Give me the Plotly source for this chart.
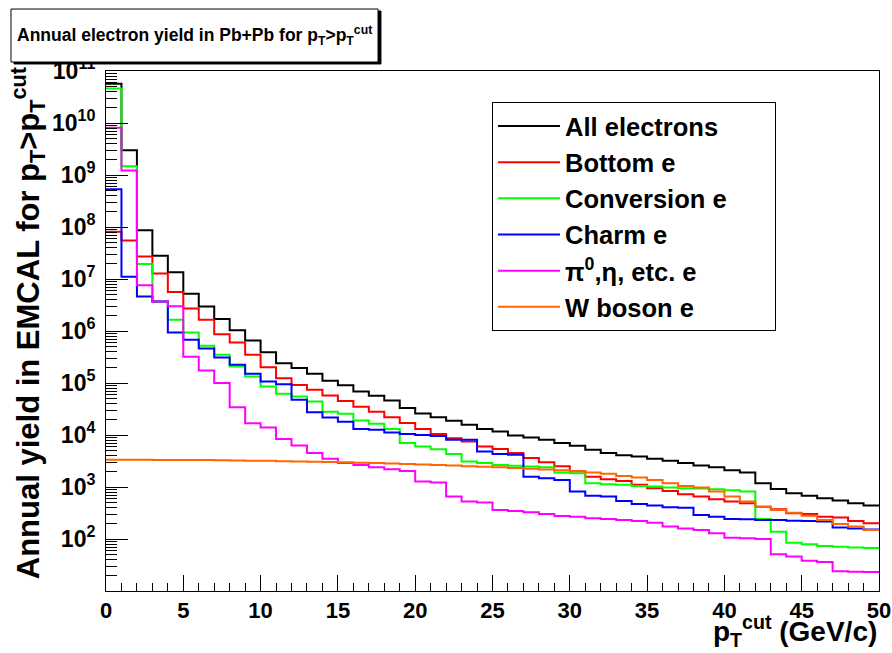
import plotly.graph_objects as go

# pT cut bin edges (GeV/c), 1 GeV bins from 0 to 50
pt_edges = list(range(0, 51))

all_e = [5.7e10, 3.0e9, 8.7e7, 2.8e7, 1.35e7, 5.2e6, 2.95e6, 1.70e6, 1.03e6, 6.6e5,
         3.9e5, 2.4e5, 1.94e5, 1.5e5, 1.1e5, 9.1e4, 6.9e4, 5.7e4, 4.6e4, 3.3e4,
         2.6e4, 2.2e4, 1.87e4, 1.57e4, 1.31e4, 1.17e4, 9.8e3, 9.0e3, 8.1e3, 7.0e3,
         6.2e3, 5.2e3, 4.5e3, 4.1e3, 3.85e3, 3.5e3, 3.2e3, 2.9e3, 2.6e3, 2.4e3,
         2.1e3, 1.9e3, 1.18e3, 920, 757, 682, 607, 547, 486, 439]

bottom_e = [8.1e7, 5.5e7, 2.7e7, 1.27e7, 5.6e6, 2.7e6, 1.65e6, 8.7e5, 6.0e5, 3.5e5,
            2.0e5, 1.24e5, 9.2e4, 7.4e4, 5.75e4, 4.5e4, 3.5e4, 2.8e4, 2.2e4, 1.7e4,
            1.3e4, 1.05e4, 8.7e3, 7.5e3, 6.0e3, 5.4e3, 4.5e3, 3.6e3, 3.0e3, 2.5e3,
            2.0e3, 1.58e3, 1.41e3, 1.31e3, 1.1e3, 946, 840, 724, 653, 581,
            524, 486, 419, 372, 312, 303, 269, 258, 222, 200]

conv_e = [4.6e10, 1.48e9, 1.95e7, 3.7e6, 1.65e6, 9.4e5, 5.2e5, 3.5e5, 2.08e5, 1.34e5,
          8.6e4, 6.2e4, 5.5e4, 4.4e4, 2.8e4, 2.55e4, 1.9e4, 1.64e4, 1.31e4, 7.0e3,
          6.0e3, 5.3e3, 4.3e3, 3.1e3, 2.9e3, 2.66e3, 2.55e3, 2.47e3, 2.4e3, 1.9e3,
          1.84e3, 1.18e3, 1.13e3, 1.1e3, 1.05e3, 1.02e3, 975, 946, 931, 904,
          865, 815, 243, 138, 85, 79, 73, 71, 69, 67]

charm_e = [5.3e8, 1.1e7, 4.6e6, 3.7e6, 9.4e5, 6.8e5, 4.6e5, 3.1e5, 2.24e5, 1.5e5,
           1.07e5, 9.5e4, 4.75e4, 2.75e4, 2.17e4, 1.8e4, 1.31e4, 1.26e4, 1.12e4, 1.05e4,
           1.0e4, 9.6e3, 8.1e3, 8.1e3, 4.8e3, 4.3e3, 4.15e3, 1.58e3, 1.47e3, 1.37e3,
           815, 682, 660, 540, 472, 439, 407, 401, 290, 269,
           243, 239, 232, 232, 225, 222, 216, 167, 160, 153]

pi0_e = [8.1e9, 1.22e9, 7.6e6, 3.7e6, 3.0e6, 3.2e5, 1.74e5, 1.0e5, 3.4e4, 1.69e4,
         1.39e4, 8.4e3, 6.3e3, 4.5e3, 3.5e3, 2.9e3, 2.66e3, 2.4e3, 2.2e3, 2.04e3,
         1.27e3, 1.22e3, 653, 524, 501, 361, 346, 326, 303, 277,
         269, 250, 243, 232, 222, 206, 173, 160, 149, 129,
         106, 103, 100, 51, 46, 38, 36, 24, 23.4, 23.1]

w_e = [3350, 3340, 3330, 3320, 3310, 3300, 3290, 3260, 3240, 3210,
       3180, 3140, 3100, 3070, 3030, 2980, 2930, 2880, 2830, 2770,
       2710, 2640, 2580, 2520, 2450, 2390, 2320, 2250, 2180, 2090,
       2000, 1890, 1790, 1630, 1520, 1370, 1180, 1050, 975, 815,
       653, 524, 419, 361, 321, 281, 232, 195, 173, 149]

series_names = ["All electrons", "Bottom e",
                "Conversion e" + "\u00a0" * 6, "Charm e",
                "\u03c0<sup>0</sup>,\u03b7, etc. e", "W boson e"]
series_vals = [all_e, bottom_e, conv_e, charm_e, pi0_e, w_e]
series_colors = ["#000000", "#ff0000", "#00ff00", "#0000ff", "#ff00ff", "#ff6600"]

FONT = "Liberation Sans, Arial, Helvetica, sans-serif"

fig = go.Figure()
for name, vals, col in zip(series_names, series_vals, series_colors):
    fig.add_trace(go.Scatter(
        x=pt_edges, y=vals + [vals[-1]], mode="lines", name=name,
        line=dict(color=col, width=2, shape="hv"),
        legendgroup=name,
    ))

dec = list(range(2, 12))
minor_y = [m * 10 ** e for e in range(1, 11) for m in range(2, 10)]

fig.update_layout(
    width=892, height=653,
    margin=dict(l=106, r=13, t=71, b=62, autoexpand=False),
    paper_bgcolor="white", plot_bgcolor="white",
    font=dict(family=FONT, color="black"),
    showlegend=True,
    legend=dict(x=0.4994, y=0.9404, xanchor="left", yanchor="top",
                bgcolor="white", bordercolor="black", borderwidth=1,
                font=dict(family=FONT, size=25.5, color="black", weight="bold"),
                itemwidth=62, tracegroupgap=0, traceorder="normal"),
    xaxis=dict(range=[0, 50], showline=True, mirror=True, linecolor="black", linewidth=1,
               showgrid=False, zeroline=False, automargin=False,
               tickmode="array", tickvals=list(range(0, 51, 5)),
               ticks="inside", ticklen=16, tickwidth=1, tickcolor="black",
               minor=dict(dtick=1, ticks="inside", ticklen=8, tickwidth=1, tickcolor="black"),
               tickfont=dict(family=FONT, size=22, color="black", weight="bold")),
    yaxis=dict(type="log", range=[1, 11], showline=True, mirror=True, linecolor="black",
               linewidth=1, showgrid=False, zeroline=False, automargin=False,
               tickmode="array", tickvals=[10 ** e for e in dec],
               ticktext=[f"10<sup>{e}</sup>" for e in dec],
               ticks="inside", ticklen=22, tickwidth=1, tickcolor="black",
               ticklabelstandoff=5,
               minor=dict(tickmode="array", tickvals=minor_y, ticks="inside", ticklen=11,
                          tickwidth=1, tickcolor="black"),
               tickfont=dict(family=FONT, size=23, color="black", weight="bold")),
)

# title box (ROOT-style pave with shadow)
fig.add_shape(type="rect", xref="paper", yref="paper",
              x0=-0.1190, x1=0.3557, y0=1.0135, y1=1.1154,
              line=dict(color="black", width=1), fillcolor="#000000", layer="above")
fig.add_shape(type="rect", xref="paper", yref="paper",
              x0=-0.1229, x1=0.3519, y0=1.0173, y1=1.1192,
              line=dict(color="black", width=1), fillcolor="white", layer="above")
fig.add_annotation(xref="paper", yref="paper", x=0.1145, y=1.069,
                   xanchor="center", yanchor="middle", showarrow=False,
                   text="Annual electron yield in Pb+Pb for p<sub>T</sub>&gt;p<sub>T</sub><sup>cut</sup>",
                   font=dict(family=FONT, size=17.5, color="black", weight="bold"))

# axis titles
fig.add_annotation(xref="paper", yref="paper", x=-0.1009, y=0.515,
                   xanchor="center", yanchor="middle", showarrow=False, textangle=-90,
                   text="Annual yield in EMCAL for p<sub>T</sub>&gt;p<sub>T</sub><sup>cut</sup>",
                   font=dict(family=FONT, size=31, color="black", weight="bold"))
fig.add_annotation(xref="paper", yref="paper", x=1.0, y=-0.034,
                   xanchor="right", yanchor="top", showarrow=False,
                   text="p<sub>T</sub><sup>cut</sup> (GeV/c)",
                   font=dict(family=FONT, size=28, color="black", weight="bold"))

fig.write_html("out.html", config={"displayModeBar": False},
               post_script="document.body.style.margin='0px';")
